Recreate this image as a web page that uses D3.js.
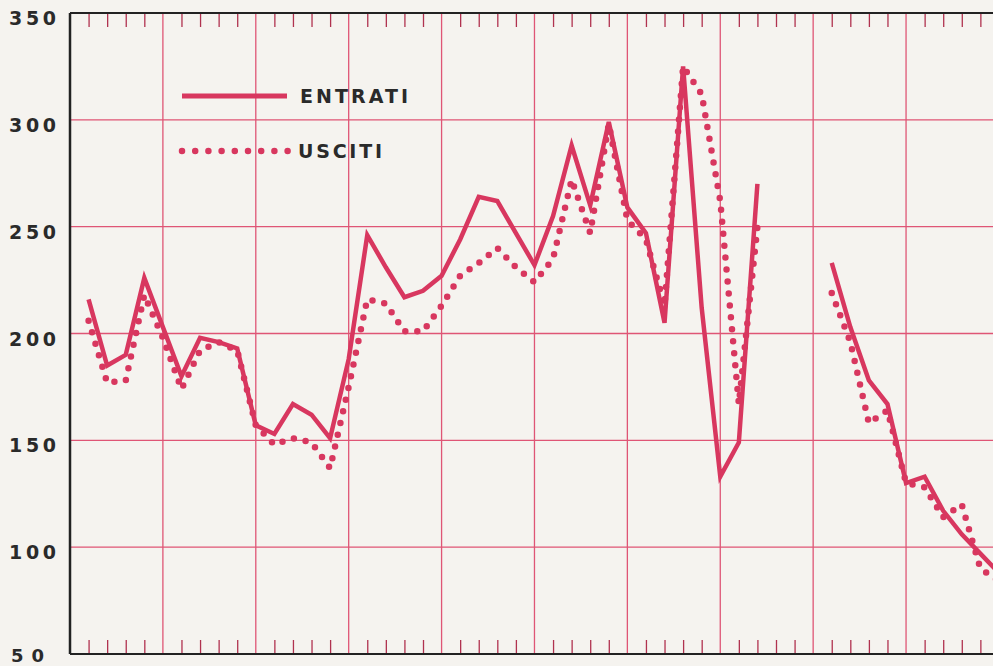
<!DOCTYPE html>
<html>
<head>
<meta charset="utf-8">
<script src="https://d3js.org/d3.v7.min.js"></script>
<style>
  body { margin: 0; background: #f5f3ef; }
  svg { display: block; }
  .lbl { font-family: "DejaVu Sans", sans-serif; font-weight: bold; fill: #2a2a2a; }
</style>
</head>
<body>
<div id="chart"></div>
<script>
// one value per minor tick (period 1..50), null = no record
var periods = d3.range(1, 51);
var entrati = [216,185,190,226,203,180,198,196,193,157,
               153,167,162,151,188,246,231,217,220,227,
               244,264,262,247,232,255,288,260,299,259,
               247,205,325,212,133,149,270,null,null,null,
               233,203,178,167,130,133,117,106,97,88];
var usciti  = [206,177,178,218,198,174,192,196,192,157,
               148,151,149,137,175,216,214,201,201,213,
               227,233,240,231,224,235,272,247,298,253,
               244,213,325,312,262,167,250,null,null,null,
               219,196,158,164,130,128,114,120,90,84];
var yTicks = [50,100,150,200,250,300,350];
var legend = [{name:"ENTRATI", dotted:false}, {name:"USCITI", dotted:true}];

var width = 993, height = 666;
var margin = {left: 70, top: 13, bottom: 12};
var red = "#d8375f", grid = "#df5575";

var svg = d3.select("#chart").append("svg")
    .attr("width", width).attr("height", height);

var x = d3.scaleLinear().domain([0, 49.68]).range([margin.left, width]);
var y = d3.scaleLinear().domain([50, 350]).range([height - margin.bottom, margin.top]);

svg.append("clipPath").attr("id", "clip")
  .append("rect").attr("x", margin.left).attr("y", 0)
  .attr("width", width - margin.left).attr("height", height);

// horizontal grid
svg.append("g").selectAll("line")
  .data(yTicks.filter(function(d){ return d > 50 && d < 350; }))
  .enter().append("line")
    .attr("x1", x(0)).attr("x2", width)
    .attr("y1", function(d){ return y(d); }).attr("y2", function(d){ return y(d); })
    .attr("stroke", grid).attr("stroke-width", 1.3);

// vertical grid every 5 periods
svg.append("g").selectAll("line")
  .data(d3.range(5, 50, 5))
  .enter().append("line")
    .attr("x1", function(d){ return x(d); }).attr("x2", function(d){ return x(d); })
    .attr("y1", y(350)).attr("y2", y(50))
    .attr("stroke", grid).attr("stroke-width", 1.3);

// minor ticks top and bottom
var minor = d3.range(1, 50).filter(function(d){ return d % 5 != 0; });
svg.append("g").attr("transform", "translate(0," + y(350) + ")")
  .call(d3.axisBottom(x).tickValues(minor).tickSize(14).tickFormat(""))
  .call(function(g){ g.select(".domain").remove(); g.selectAll("line").attr("stroke", "#b0324f").attr("stroke-width", 1.3); });
svg.append("g").attr("transform", "translate(0," + y(50) + ")")
  .call(d3.axisTop(x).tickValues(minor).tickSize(14).tickFormat(""))
  .call(function(g){ g.select(".domain").remove(); g.selectAll("line").attr("stroke", "#b0324f").attr("stroke-width", 1.3); });

// frame: left, top, bottom
svg.append("line").attr("x1", x(0)).attr("x2", width).attr("y1", y(350)).attr("y2", y(350))
  .attr("stroke", "#222").attr("stroke-width", 2);
svg.append("line").attr("x1", x(0)).attr("x2", width).attr("y1", y(50)).attr("y2", y(50))
  .attr("stroke", "#222").attr("stroke-width", 2);
svg.append("line").attr("x1", x(0)).attr("x2", x(0)).attr("y1", y(350)).attr("y2", y(50))
  .attr("stroke", "#222").attr("stroke-width", 2.5);

// y labels
svg.append("g").selectAll("text")
  .data(yTicks).enter().append("text")
    .attr("class", "lbl")
    .attr("x", function(d){ return d < 100 ? 11 : 9; })
    .attr("y", function(d){ return y(d) + (d == 50 ? 8 : 12); })
    .attr("font-size", function(d){ return d == 50 ? 18 : 19; })
    .attr("textLength", function(d){ return d < 100 ? 33 : 47; })
    .attr("lengthAdjust", "spacing")
    .text(function(d){ return d; });

var line = d3.line()
    .defined(function(d){ return d[1] != null; })
    .x(function(d){ return x(d[0]); })
    .y(function(d){ return y(d[1]); });

var plot = svg.append("g").attr("clip-path", "url(#clip)");

plot.append("path")
  .datum(periods.map(function(p, i){ return [p, usciti[i]]; }))
  .attr("d", line)
  .attr("fill", "none").attr("stroke", red)
  .attr("stroke-width", 6.5).attr("stroke-linecap", "round")
  .attr("stroke-dasharray", "0 12");

plot.append("path")
  .datum(periods.map(function(p, i){ return [p, entrati[i]]; }))
  .attr("d", line)
  .attr("fill", "none").attr("stroke", red)
  .attr("stroke-width", 4.5).attr("stroke-linejoin", "miter");

// legend
var lg = svg.append("g").selectAll("g")
  .data(legend).enter().append("g")
    .attr("transform", function(d, i){ return "translate(182," + (96 + i * 55) + ")"; });
lg.append("line")
  .attr("x1", 0).attr("x2", function(d){ return d.dotted ? 106 : 105; })
  .attr("stroke", red)
  .attr("stroke-width", function(d){ return d.dotted ? 6.5 : 5; })
  .attr("stroke-linecap", function(d){ return d.dotted ? "round" : "butt"; })
  .attr("stroke-dasharray", function(d){ return d.dotted ? "0 13.2" : null; });
lg.append("text")
  .attr("class", "lbl")
  .attr("x", function(d){ return d.dotted ? 116 : 118; })
  .attr("y", 7)
  .attr("font-size", 19)
  .attr("textLength", function(d){ return d.dotted ? 84 : 108; })
  .attr("lengthAdjust", "spacing")
  .text(function(d){ return d.name; });
</script>
</body>
</html>
